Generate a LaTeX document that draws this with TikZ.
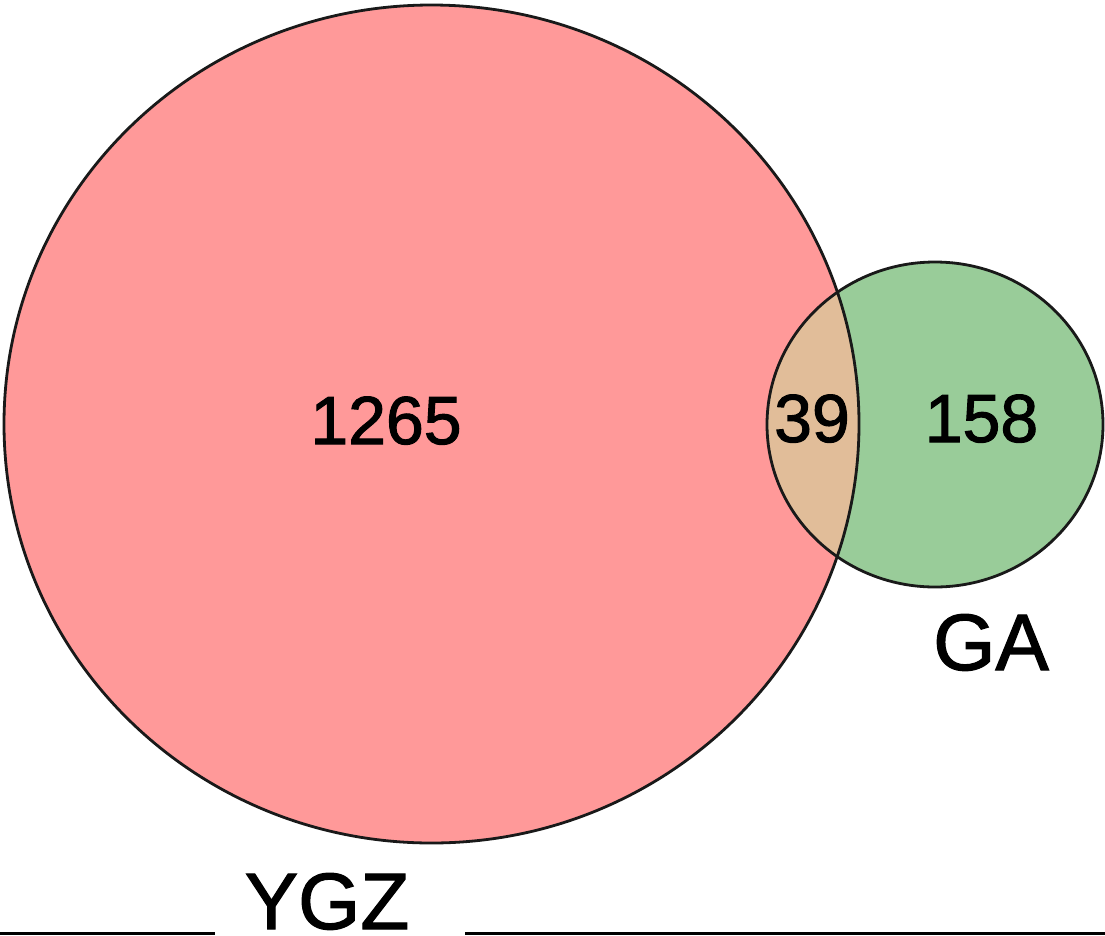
\documentclass[tikz,border=0pt]{standalone}
\usepackage{fontspec}
\setmainfont{Liberation Sans}
\newfontfamily\lblfont[FakeBold=1.5]{Liberation Sans}
\definecolor{ygzfill}{RGB}{255,153,153}
\definecolor{gafill}{RGB}{153,204,153}
\definecolor{lensfill}{RGB}{225,189,153}
\tikzset{
  outline/.style={draw=black!90, line width=2.8pt},
  count/.style={font=\lblfont\fontsize{68}{68}\selectfont, inner sep=0pt, anchor=base},
  setlabel/.style={font=\lblfont\fontsize{80}{80}\selectfont, inner sep=0pt, anchor=base}
}
\begin{document}
\begin{tikzpicture}[x=1pt,y=-1pt]
\useasboundingbox (0,0) rectangle (1105,935);
\fill[white] (0,0) rectangle (1105,935);
\coordinate (cY) at (431.5,424);
\coordinate (cG) at (935,424.5);
\fill[ygzfill] (cY) ellipse [x radius=427.5, y radius=419];
\fill[gafill] (cG) ellipse [x radius=168, y radius=162.5];
\begin{scope}
  \clip (cY) ellipse [x radius=427.5, y radius=419];
  \fill[lensfill] (cG) ellipse [x radius=168, y radius=162.5];
\end{scope}
\draw[outline] (cY) ellipse [x radius=427.5, y radius=419];
\draw[outline] (cG) ellipse [x radius=168, y radius=162.5];
\node[count] (n1265) at (386,444) {1265};
\node[count] (n39) at (812,442) {39};
\node[count] (n158) at (981.5,442) {158};
\node[setlabel] (lGA) at (991,670) {GA};
\node[setlabel] (lYGZ) at (327,929) {YGZ};
\coordinate (l1) at (0,933.5);
\coordinate (l2) at (215,933.5);
\coordinate (l3) at (465,933.5);
\coordinate (l4) at (1105,933.5);
\draw[line width=2.5pt] (l1) -- (l2);
\draw[line width=2.5pt] (l3) -- (l4);
\end{tikzpicture}
\end{document}
